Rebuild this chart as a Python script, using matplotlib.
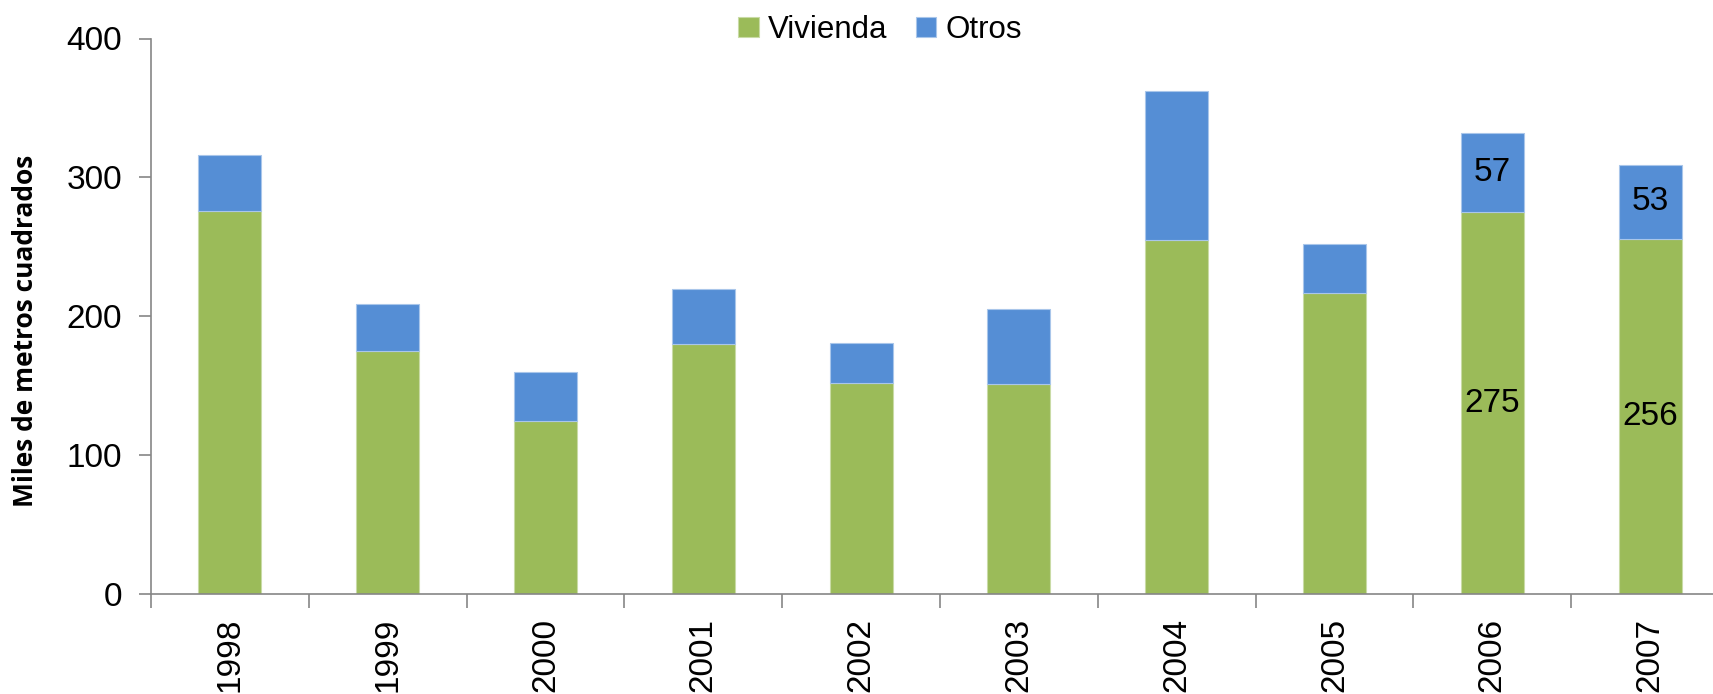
import matplotlib
matplotlib.use("Agg")
import matplotlib.pyplot as plt
import numpy as np

years = ["1998", "1999", "2000", "2001", "2002", "2003", "2004", "2005", "2006", "2007"]
vivienda = [276, 175, 125, 180, 152, 151, 255, 217, 275, 256]
otros = [40, 34, 35, 40, 29, 54, 107, 35, 57, 53]
labeled_years = ["2006", "2007"]

green = "#9BBB59"
blue = "#558ED5"
axis_gray = "#868686"

plt.rcParams["font.family"] = ["Liberation Sans", "DejaVu Sans"]

W, H = 1713, 694
fig = plt.figure(figsize=(W / 100, H / 100), dpi=100)
left, bottom, top = 151, 594.3, 38.5
width = 1578
ax = fig.add_axes([left / W, 1 - bottom / H, width / W, (bottom - top) / H])

x = np.arange(len(years))
b1 = ax.bar(x, vivienda, width=0.40, color=green, edgecolor="#c9dba6", linewidth=0.8, label="Vivienda")
b2 = ax.bar(x, otros, width=0.40, bottom=vivienda, color=blue, edgecolor="#a9c6ea", linewidth=0.8, label="Otros")

for i, yr in enumerate(years):
    if yr in labeled_years:
        ax.text(x[i], vivienda[i] / 2, str(vivienda[i]), ha="center", va="center", fontsize=24, color="black")
        ax.text(x[i], vivienda[i] + otros[i] / 2, str(otros[i]), ha="center", va="center", fontsize=24, color="black")

ax.set_xlim(-0.5, len(years) - 0.5)
ax.set_ylim(0, 400)
ax.set_yticks([0, 100, 200, 300, 400])

ax.set_xticks(x)
ax.set_xticklabels(years, rotation=90, fontsize=24)
ax.set_xticks(np.arange(len(years) + 1) - 0.5, minor=True)
ax.tick_params(axis="x", which="major", length=0, pad=17)
ax.tick_params(axis="x", which="minor", length=10, width=1.2, color=axis_gray, direction="out")
ax.tick_params(axis="y", length=9, width=1.2, color=axis_gray, direction="out", labelsize=24, pad=12)

for s in ["top", "right"]:
    ax.spines[s].set_visible(False)
for s in ["left", "bottom"]:
    ax.spines[s].set_color(axis_gray)
    ax.spines[s].set_linewidth(1.2)

fig.text(26 / W, 1 - 331 / H, "Miles de metros cuadrados", rotation=90, ha="center", va="center",
         fontsize=19, fontweight="bold", family=["Open Sans", "DejaVu Sans"])

fig.legend(handles=[b1, b2], labels=["Vivienda", "Otros"], loc="center",
           bbox_to_anchor=(880 / W, 1 - 30 / H), ncol=2, frameon=False, fontsize=22.5,
           handlelength=0.65, handleheight=0.65, handletextpad=0.3, columnspacing=0.9)

fig.savefig("out.png", dpi=100)
